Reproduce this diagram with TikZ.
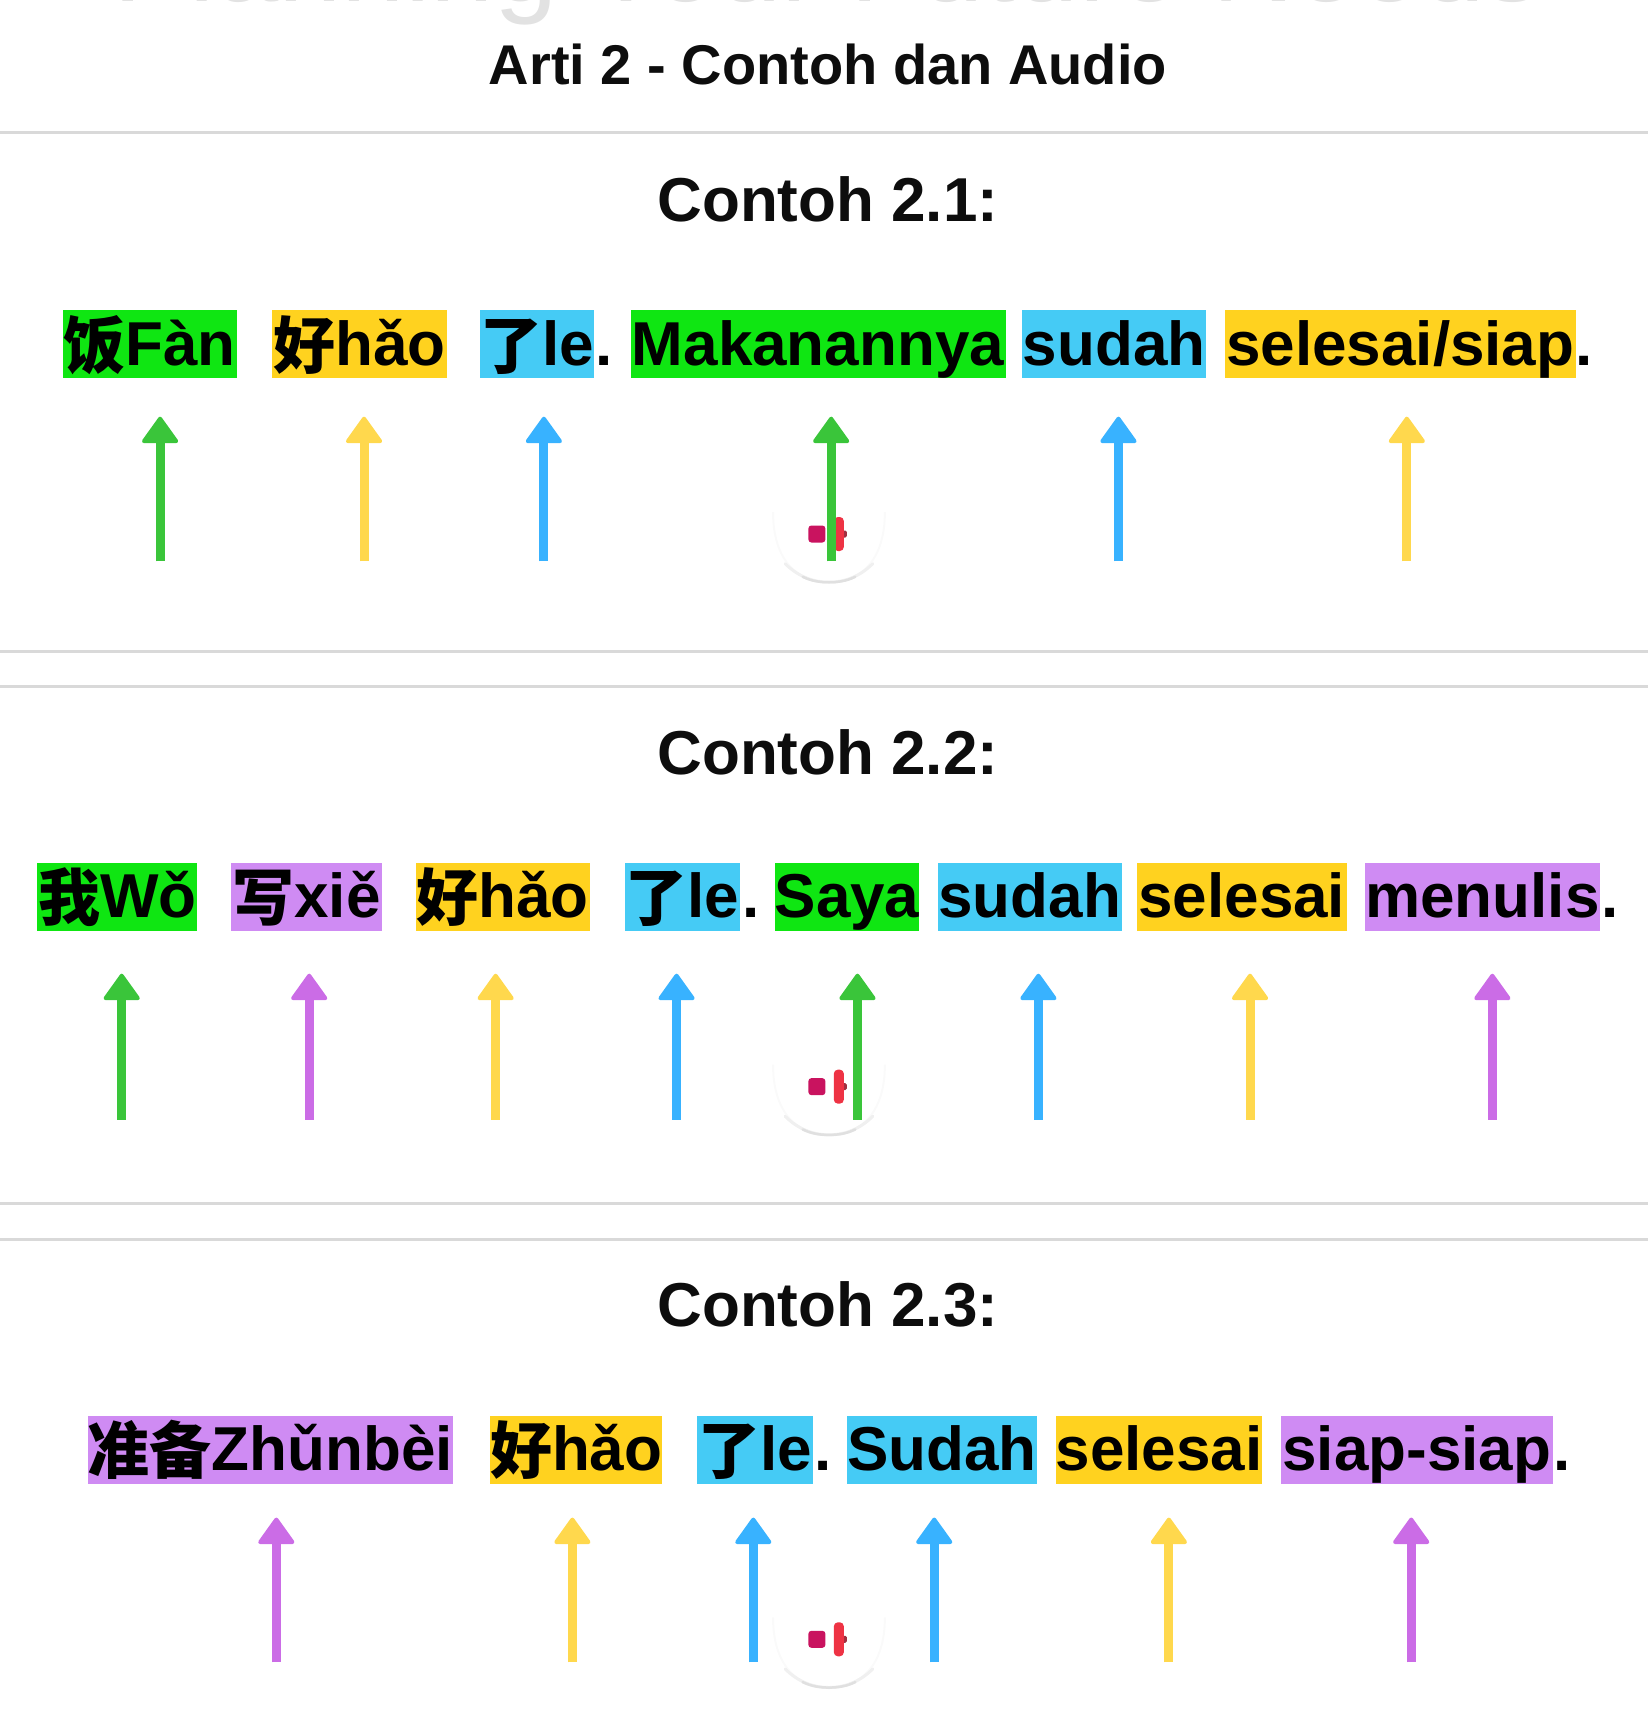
\documentclass[tikz,border=0pt]{standalone}
\usepackage{fontspec}
\usetikzlibrary{arrows.meta}
\setmainfont{Liberation Sans}
\newfontfamily\cjkbase{Noto Sans CJK SC}
\newcommand{\cjkt}[1]{\raisebox{-3pt}{\bfseries\cjkbase #1}}
\definecolor{hlgreen}{HTML}{0FE612}
\definecolor{hlyellow}{HTML}{FFD21F}
\definecolor{hlblue}{HTML}{45CBF5}
\definecolor{hlpurple}{HTML}{CF8BF3}
\definecolor{argreen}{HTML}{3AC53A}
\definecolor{aryellow}{HTML}{FFD84D}
\definecolor{arblue}{HTML}{38B2FF}
\definecolor{arpurple}{HTML}{CB6CE6}
\definecolor{rulegray}{HTML}{D9D9D9}
\definecolor{faded}{HTML}{E2E2E2}
\definecolor{iconcrimson}{HTML}{C9135F}
\definecolor{iconred}{HTML}{EE3344}
\definecolor{iconnub}{HTML}{A03040}
\tikzset{
  wordbox/.style={inner sep=0pt,minimum height=68pt,text height=55pt,text depth=13pt,align=center,font=\bfseries\fontsize{62}{70}\selectfont,text=black},
  wordtail/.style={inner sep=0pt,anchor=base west,font=\bfseries\fontsize{62}{70}\selectfont,text=black},
  sectitle/.style={inner sep=0pt,anchor=base,font=\bfseries\fontsize{62}{70}\selectfont,text=black!95},
  maintitle/.style={inner sep=0pt,anchor=base,font=\bfseries\fontsize{56}{64}\selectfont,text=black!95},
  sep/.style={draw=rulegray,line width=3pt},
  marker/.style={line width=9pt,-{Triangle[length=28pt,width=39pt,line width=4pt,round]}},
}
\newcommand{\hlword}[6]{%
  \pgfmathsetlengthmacro{\hlw}{(#4-#3)*1.0965pt}%
  \node[wordbox,fill=#2,minimum width=\hlw] (#1) at ({(#3+#4)/2},{#5+31}) {#6};}
\newcommand{\marker}[5]{%
  \coordinate (#1s) at (#3,#5);
  \coordinate (#1e) at (#3,#4);
  \draw[marker,#2] (#1s) -- (#1e);}
\newcommand{\soundbtn}[2]{%
  \draw[draw=black!2,line width=2pt] (705,#2-20) .. controls (705,#2+25) and (728,#2+44) .. (756,#2+44) .. controls (784,#2+44) and (807,#2+25) .. (807,#2-20);
  \draw[draw=black!6,line width=3pt,line cap=round] (716,#2+27) .. controls (728,#2+39) and (742,#2+44) .. (756,#2+44) .. controls (770,#2+44) and (784,#2+39) .. (796,#2+27);
  \draw[draw=black!12,line width=2.5pt,line cap=round] (732,#2+39) .. controls (740,#2+43) and (748,#2+44) .. (756,#2+44) .. controls (764,#2+44) and (772,#2+43) .. (780,#2+39);
  \node[fill=iconcrimson,inner sep=0pt,minimum width=17pt,minimum height=17pt,rounded corners=3pt] (#1a) at (745,#2) {};
  \node[fill=iconnub,inner sep=0pt,minimum width=5pt,minimum height=7pt,rounded corners=1.5pt] (#1c) at (770,#2) {};
  \node[fill=iconred,inner sep=0pt,minimum width=10pt,minimum height=34pt,rounded corners=4pt] (#1b) at (765,#2) {};}
\begin{document}
\begin{tikzpicture}[x=1.0965pt,y=-1.0965pt]
\useasboundingbox (0,0) rectangle (1503,1567.7);
% clipped heading at the very top
\node[inner sep=0pt,anchor=base,text=faded,font=\fontsize{114}{120}\selectfont] (top) at (755,1) {Planning Your Future Needs};
\node[maintitle] (title) at (755,77) {Arti 2 - Contoh dan Audio};
\draw[sep] (0,121) -- (1503,121);
% ---- 2.1
\node[sectitle] (t1) at (755,202) {Contoh 2.1:};
\hlword{a1}{hlgreen}{57}{216}{283}{\cjkt{饭}Fàn}
\hlword{a2}{hlyellow}{248}{408}{283}{\cjkt{好}hǎo}
\hlword{a3}{hlblue}{439}{541}{283}{\cjkt{了}le}
\node[wordtail] (a3t) at (543,333) {.};
\hlword{a4}{hlgreen}{575}{917}{283}{Makanannya}
\hlword{a5}{hlblue}{932}{1100}{283}{sudah}
\hlword{a6}{hlyellow}{1117}{1437}{283}{selesai/siap}
\node[wordtail] (a6t) at (1437,333) {.};
\soundbtn{sa}{487}
\marker{ma1}{argreen}{146}{380}{512}
\marker{ma2}{aryellow}{332}{380}{512}
\marker{ma3}{arblue}{496}{380}{512}
\marker{ma4}{argreen}{758}{380}{512}
\marker{ma5}{arblue}{1020}{380}{512}
\marker{ma6}{aryellow}{1283}{380}{512}
\draw[sep] (0,594) -- (1503,594);
\draw[sep] (0,626) -- (1503,626);
% ---- 2.2
\node[sectitle] (t2) at (755,706) {Contoh 2.2:};
\hlword{b1}{hlgreen}{34}{180}{787}{\cjkt{我}Wǒ}
\hlword{b2}{hlpurple}{211}{348}{787}{\cjkt{写}xiě}
\hlword{b3}{hlyellow}{379}{538}{787}{\cjkt{好}hǎo}
\hlword{b4}{hlblue}{570}{675}{787}{\cjkt{了}le}
\node[wordtail] (b4t) at (677,837) {.};
\hlword{b5}{hlgreen}{707}{838}{787}{Saya}
\hlword{b6}{hlblue}{855}{1023}{787}{sudah}
\hlword{b7}{hlyellow}{1037}{1228}{787}{selesai}
\hlword{b8}{hlpurple}{1245}{1459}{787}{menulis}
\node[wordtail] (b8t) at (1460,837) {.};
\soundbtn{sb}{991}
\marker{mb1}{argreen}{111}{888}{1021}
\marker{mb2}{arpurple}{282}{888}{1021}
\marker{mb3}{aryellow}{452}{888}{1021}
\marker{mb4}{arblue}{617}{888}{1021}
\marker{mb5}{argreen}{782}{888}{1021}
\marker{mb6}{arblue}{947}{888}{1021}
\marker{mb7}{aryellow}{1140}{888}{1021}
\marker{mb8}{arpurple}{1361}{888}{1021}
\draw[sep] (0,1098) -- (1503,1098);
\draw[sep] (0,1130) -- (1503,1130);
% ---- 2.3
\node[sectitle] (t3) at (755,1210) {Contoh 2.3:};
\hlword{c1}{hlpurple}{80}{413}{1291}{\cjkt{准备}Zhǔnbèi}
\hlword{c2}{hlyellow}{447}{604}{1291}{\cjkt{好}hǎo}
\hlword{c3}{hlblue}{636}{741}{1291}{\cjkt{了}le}
\node[wordtail] (c3t) at (743,1341) {.};
\hlword{c4}{hlblue}{772}{946}{1291}{Sudah}
\hlword{c5}{hlyellow}{963}{1151}{1291}{selesai}
\hlword{c6}{hlpurple}{1168}{1416}{1291}{siap-siap}
\node[wordtail] (c6t) at (1417,1341) {.};
\soundbtn{sc}{1495}
\marker{mc1}{arpurple}{252}{1384}{1516}
\marker{mc2}{aryellow}{522}{1384}{1516}
\marker{mc3}{arblue}{687}{1384}{1516}
\marker{mc4}{arblue}{852}{1384}{1516}
\marker{mc5}{aryellow}{1066}{1384}{1516}
\marker{mc6}{arpurple}{1287}{1384}{1516}
\end{tikzpicture}
\end{document}
